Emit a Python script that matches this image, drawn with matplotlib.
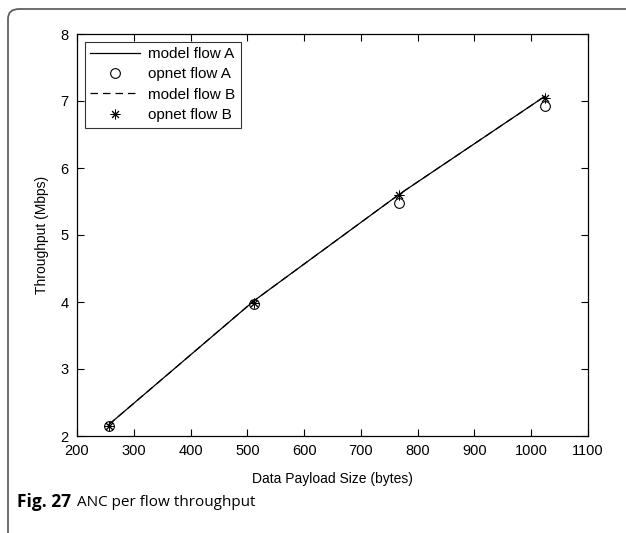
import matplotlib
matplotlib.use('Agg')
import matplotlib.pyplot as plt
from matplotlib.patches import FancyBboxPatch

# payload sizes (bytes) and per-flow throughput (Mbps)
payload = [256, 512, 768, 1024]
model_a = [2.17, 4.02, 5.61, 7.07]
opnet_a = [2.15, 3.97, 5.48, 6.92]
model_b = [2.17, 4.02, 5.61, 7.07]
opnet_b = [2.15, 3.98, 5.60, 7.04]

xticks = [200, 300, 400, 500, 600, 700, 800, 900, 1000, 1100]
yticks = [2, 3, 4, 5, 6, 7, 8]

plt.rcParams['font.family'] = ['Liberation Sans', 'DejaVu Sans']

fig = plt.figure(figsize=(6.26, 5.33), dpi=100)

# card outline: left and top edge only, with rounded corner
card = FancyBboxPatch((8 / 626, -0.2), 1.2, 1.2 - 9 / 533,
                      boxstyle='round,pad=0,rounding_size=0.018',
                      transform=fig.transFigure, fill=False,
                      edgecolor='#555555', linewidth=1.2)
fig.patches.append(card)

ax = fig.add_axes([77 / 626, 1 - 436 / 533, (588 - 77) / 626, (436 - 34) / 533])

ax.plot(payload, model_a, '-', color='black', linewidth=0.9, label='model flow A')
ax.plot(payload, opnet_a, 'o', color='black', markerfacecolor='none',
        markersize=7, markeredgewidth=0.8, label='opnet flow A')
ax.plot(payload, model_b, linestyle=(0, (6, 4)), color='black', linewidth=0.9,
        label='model flow B')
ax.plot(payload, opnet_b, linestyle='none', marker=(8, 2, 0), color='black',
        markersize=7, markeredgewidth=0.7, label='opnet flow B')

ax.set_xlim(200, 1100)
ax.set_ylim(2, 8)
ax.set_xticks(xticks)
ax.set_yticks(yticks)
ax.tick_params(direction='in', top=True, right=True, length=5, width=0.8,
               labelsize=10.5, pad=6)
for s in ax.spines.values():
    s.set_linewidth(0.9)

ax.set_xlabel('Data Payload Size (bytes)', fontsize=10, labelpad=10)
ax.set_ylabel('Throughput (Mbps)', fontsize=10, labelpad=8)

leg = ax.legend(loc='upper left', fontsize=11, frameon=True, fancybox=False,
                edgecolor='black', handlelength=3.3, borderpad=0.35,
                labelspacing=0.42, handletextpad=0.5, borderaxespad=0.5,
                numpoints=1)
leg.get_frame().set_linewidth(0.8)

fig.text(17 / 626, 1 - 502 / 533, 'Fig. 27', fontsize=12.5, fontweight='bold',
         family=['Open Sans', 'DejaVu Sans'], va='center', ha='left')
fig.text(77 / 626, 1 - 502 / 533, 'ANC per flow throughput', fontsize=11,
         family=['Open Sans', 'DejaVu Sans'], va='center', ha='left')

fig.savefig('out.png', dpi=100)
